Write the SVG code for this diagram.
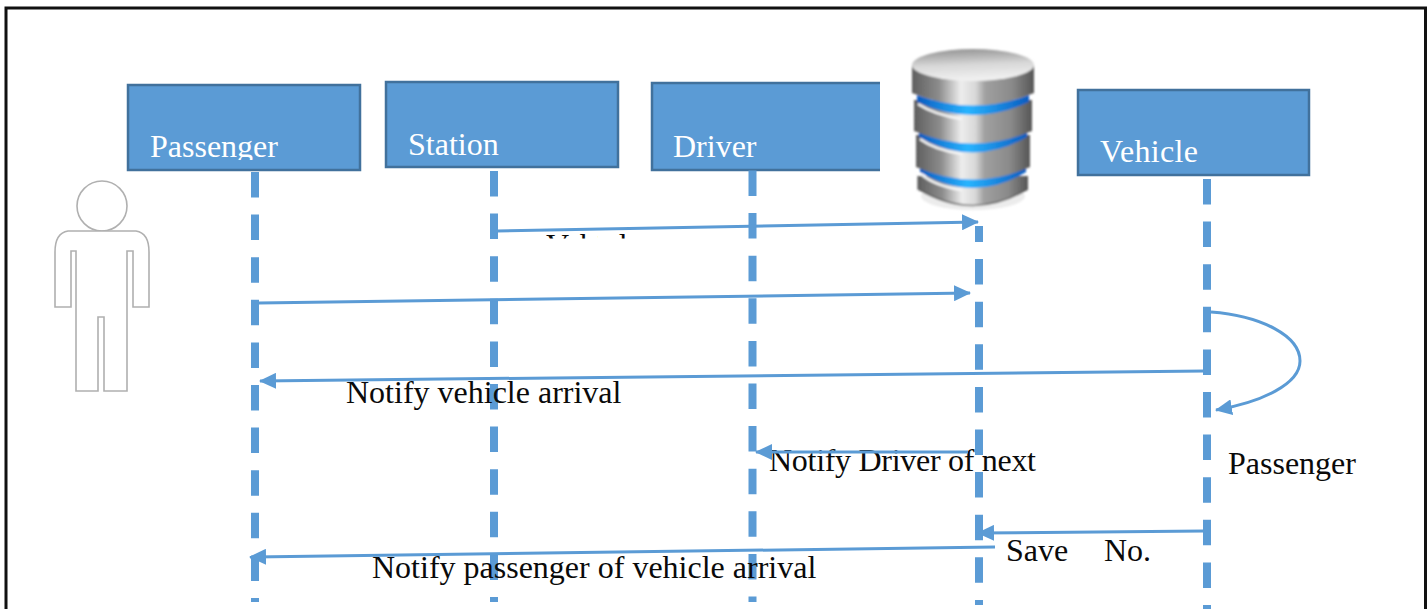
<svg xmlns="http://www.w3.org/2000/svg" width="1427" height="609" viewBox="0 0 1427 609">
<style>
.t{font-family:"Liberation Serif","Times New Roman",serif;font-size:32px;fill:#0a0a0a}
.box{fill:#5b9bd5;stroke:#41719c;stroke-width:2.5}
.lab{font-family:"Liberation Serif","Times New Roman",serif;font-size:32px;fill:#fff}
.life{fill:none;stroke:#5b9bd5;stroke-width:8;stroke-dasharray:25.5 17.1}
.msg{fill:none;stroke:#5b9bd5;stroke-width:3}
.fig{fill:#fff;stroke:#b0b0b0;stroke-width:1.6}
.shine{fill:none;stroke:#f6f6f6;stroke-width:2.5}
</style>
<defs>
<marker id="arr" markerUnits="userSpaceOnUse" markerWidth="17" markerHeight="16" refX="16" refY="8" orient="auto"><path d="M0 0L17 8L0 16Z" fill="#5b9bd5"/></marker>
<clipPath id="cut"><rect x="530" y="233" width="68" height="5.500"/><rect x="610" y="233" width="40" height="5.500"/></clipPath>
<clipPath id="boxcut"><rect x="140" y="120" width="160" height="40"/></clipPath>
<linearGradient id="steel" x1="0" x2="1" y1="0" y2="0">
<stop offset="0" stop-color="#5f5f5f"/><stop offset=".22" stop-color="#8c8c8c"/><stop offset=".4" stop-color="#ededed"/><stop offset=".52" stop-color="#d8d8d8"/><stop offset=".6" stop-color="#a0a0a0"/><stop offset=".82" stop-color="#8a8a8a"/><stop offset="1" stop-color="#565656"/>
</linearGradient>
<linearGradient id="top" x1="0" x2=".15" y1="0" y2="1"><stop offset="0" stop-color="#8e8e8e"/><stop offset=".55" stop-color="#d8d8d8"/><stop offset="1" stop-color="#f0f0f0"/></linearGradient>
<linearGradient id="blue" x1="0" x2="1" y1="0" y2="0">
<stop offset="0" stop-color="#0a5cc0"/><stop offset=".45" stop-color="#28b4ff"/><stop offset="1" stop-color="#0a5cc0"/>
</linearGradient>
<filter id="soft" x="-5%" y="-5%" width="110%" height="110%"><feGaussianBlur stdDeviation="0.8"/></filter>
</defs>
<rect width="1427" height="609" fill="#fff"/>
<path d="M6 609V8H1425.5V609" fill="none" stroke="#111" stroke-width="3"/>

<g id="passenger"><rect class="box" x="128" y="85" width="232" height="85"/><text class="lab" x="150" y="157" clip-path="url(#boxcut)">Passenger</text></g>
<g id="station"><rect class="box" x="386" y="82" width="232" height="85"/><text class="lab" x="408" y="155">Station</text></g>
<g id="driver"><path d="M880 170H652V83H880Z" fill="#5b9bd5"/><path d="M880 170H652V83H880" fill="none" stroke="#41719c" stroke-width="2.500"/><text class="lab" x="673" y="157">Driver</text></g>
<g id="vehicle"><rect class="box" x="1078" y="90" width="231" height="85"/><text class="lab" x="1100" y="162" textLength="98" lengthAdjust="spacing">Vehicle</text></g>

<g id="database" filter="url(#soft)">
<ellipse cx="973" cy="196" rx="52" ry="14" fill="#ececec"/>
<path d="M918 176V189Q973 222 1028 189V176Z" fill="url(#steel)"/>
<path d="M918 176V189Q973 222 1028 189" fill="none" stroke="#4c4c4c" stroke-width="1.5" opacity=".7"/>
<path d="M920 165Q973 189 1026 165V172Q973 204 920 172Z" fill="url(#blue)"/>
<path class="shine" d="M921 174Q935 186 962 190"/>
<path d="M916 135V167Q973 192 1030 167V135Z" fill="url(#steel)"/>
<path d="M919 130Q973 155 1027 130V137Q973 168 919 137Z" fill="url(#blue)"/>
<path class="shine" d="M920 139Q935 150 962 154"/>
<path d="M914 100V131Q973 156 1032 131V100Z" fill="url(#steel)"/>
<path d="M917 95Q973 115 1029 95V102Q973 128 917 102Z" fill="url(#blue)"/>
<path class="shine" d="M918 104Q935 115 962 119"/>
<path d="M912 65V93Q973 118 1034 93V65Z" fill="url(#steel)"/>
<ellipse cx="973" cy="65" rx="61" ry="16" fill="url(#top)"/>
</g>

<g id="person">
<circle class="fig" cx="102" cy="206" r="25"/>
<path class="fig" d="M68 231H136Q149 233 149 252V307H133V251H127V391H104V317H98V391H76V251H71V307H55V252Q55 233 68 231Z"/>
</g>

<g id="under-label"><text class="t" x="769" y="471" textLength="267" lengthAdjust="spacing">Notify Driver of next</text></g>

<g id="connectors">
<path class="life" d="M255 172V602"/>
<path class="life" d="M494 171V602"/>
<path class="life" d="M752.500 170.500V602"/>
<path class="life" d="M979 226V605" stroke-dashoffset="9.500"/>
<path class="life" d="M1207 179V609"/>
<path class="msg" d="M497 231L978 222" marker-end="url(#arr)"/>
<path class="msg" d="M259 303L970 293" marker-end="url(#arr)"/>
<path class="msg" d="M1205 371L260 381" marker-end="url(#arr)"/>
<path class="msg" d="M968 452L756 452" stroke-width="4" marker-end="url(#arr)"/>
<path class="msg" d="M1204 531L978 533" marker-end="url(#arr)"/>
<path class="msg" d="M995 547L250 557" marker-end="url(#arr)"/>
<path class="msg" d="M1211 312C1262 316 1300 336 1300 361C1300 384 1262 402 1216 410" marker-end="url(#arr)"/>
</g>

<g id="labels">
<text class="t" x="546" y="256" clip-path="url(#cut)">Vehicle</text>
<text class="t" x="346" y="403">Notify vehicle arrival</text>
<text class="t" x="1228" y="474">Passenger</text>
<text class="t" x="1006" y="561">Save</text>
<text class="t" x="1104" y="561">No.</text>
<text class="t" x="372" y="578">Notify passenger of vehicle arrival</text>
</g>
</svg>
